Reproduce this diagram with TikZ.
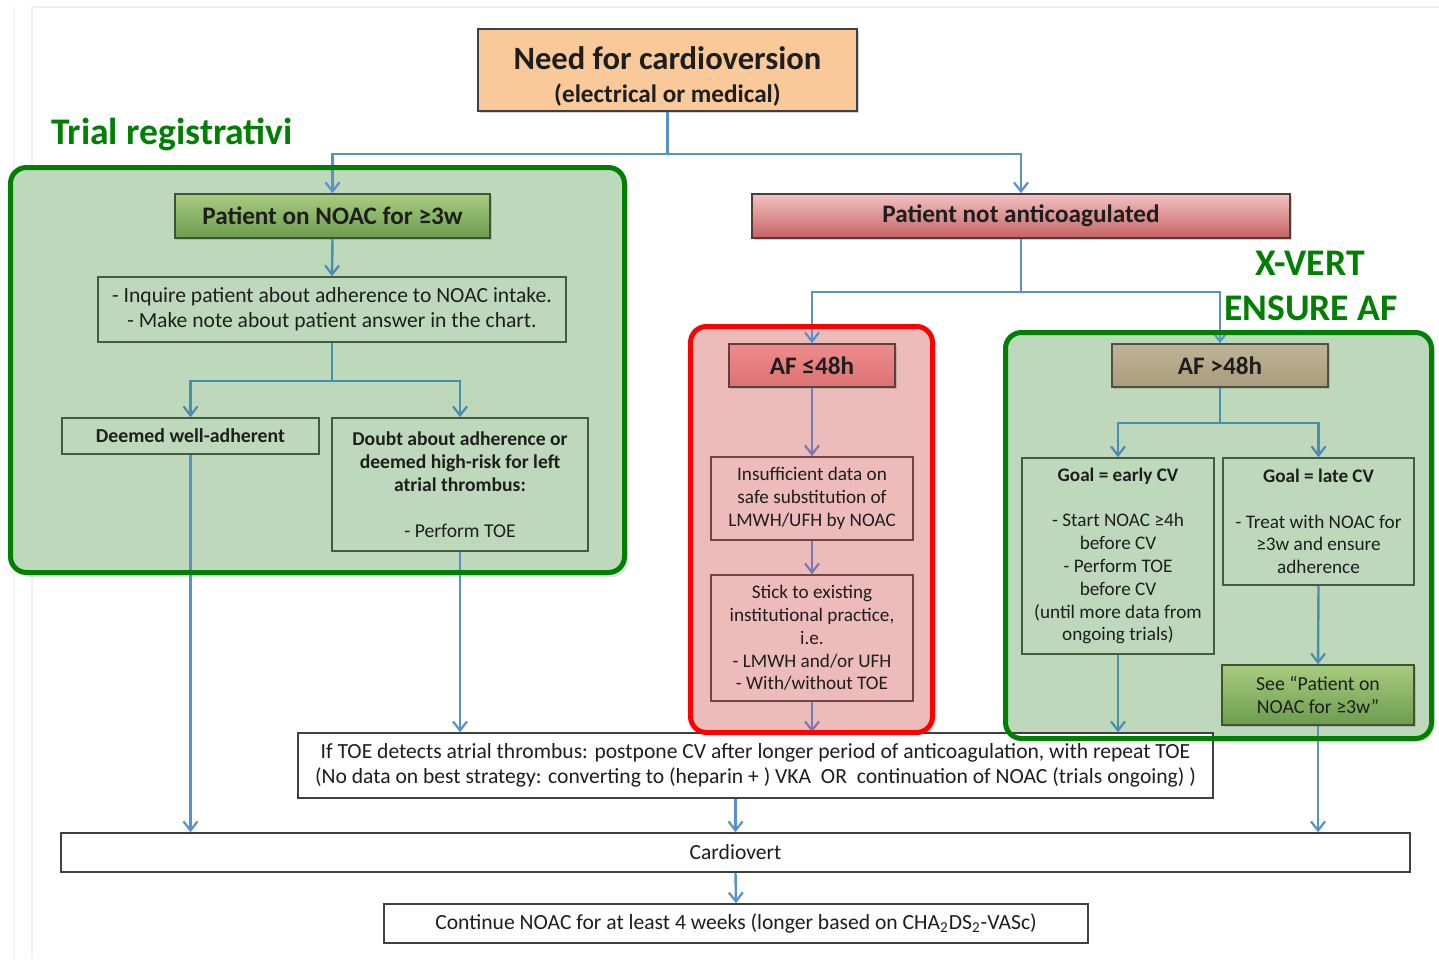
\documentclass[tikz,border=0pt]{standalone}
\usepackage{fontspec}
\setmainfont{Carlito}
\usetikzlibrary{arrows.meta,calc,shadows}
\definecolor{peach}{RGB}{250,201,154}
\definecolor{boxline}{RGB}{64,64,64}
\definecolor{pgreen}{RGB}{0,128,0}
\definecolor{pgreenfill}{RGB}{190,216,188}
\definecolor{predfill}{RGB}{238,187,187}
\definecolor{conblue}{RGB}{88,146,204}
\definecolor{congreen}{RGB}{72,142,176}
\definecolor{conred}{RGB}{122,120,176}
\definecolor{gtop}{RGB}{168,204,128}
\definecolor{gbot}{RGB}{108,156,78}
\definecolor{rtop}{RGB}{242,194,194}
\definecolor{rbot}{RGB}{198,98,98}
\definecolor{aftop}{RGB}{238,140,140}
\definecolor{afbot}{RGB}{220,114,114}
\definecolor{btop}{RGB}{192,180,150}
\definecolor{bbot}{RGB}{168,156,124}
\definecolor{txt}{RGB}{30,30,30}
\definecolor{glineA}{RGB}{66,92,62}
\definecolor{glineB}{RGB}{62,84,52}
\definecolor{rlineA}{RGB}{110,70,70}
\definecolor{rlineB}{RGB}{82,58,58}
\definecolor{rlineC}{RGB}{100,62,62}
\definecolor{blineB}{RGB}{78,82,66}
\tikzset{
  box/.style={draw=boxline, line width=0.8pt, inner sep=0pt, align=center, text=txt, font=\fontsize{9.6}{11.4}\selectfont},
  gbox/.style={box, draw=glineA},
  rbox/.style={box, draw=rlineA},
  shad/.style={drop shadow={shadow xshift=0.8pt, shadow yshift=-0.8pt, opacity=0.35}},
  hdr/.style={box, font=\fontsize{12.6}{14}\selectfont\bfseries, shad},
  wide/.style={font=\fontsize{10.8}{12.4}\selectfont},
  conn/.style={draw=conblue, line width=1.2pt, -{Straight Barb[length=4.5pt,width=7pt,line width=1.1pt]}},
  line/.style={draw=conblue, line width=1.2pt},
  lab/.style={text=pgreen, font=\fontsize{18.8}{22}\selectfont\bfseries, inner sep=0pt},
  panelg/.style={draw=pgreen, line width=2.5pt, rounded corners=8pt},
  panelr/.style={draw=red, line width=2.5pt, rounded corners=8pt}
}
\begin{document}
\begin{tikzpicture}[x=0.5pt,y=-0.5pt]
\useasboundingbox (0,0) rectangle (1439,959);
\fill[white] (0,0) rectangle (1439,959);
% faint page frame
\draw[black!7, line width=0.6pt] (32,7) -- (1439,7);
\draw[black!5, line width=0.6pt] (32,7) -- (32,959);
\draw[black!4, line width=0.6pt] (14,7) -- (14,959);

% panel shadows and fills
\fill[black, opacity=0.12, rounded corners=8pt] (14,171) rectangle (628,577);
\fill[black, opacity=0.12, rounded corners=8pt] (694,330) rectangle (936,736);
\fill[black, opacity=0.12, rounded corners=8pt] (1009,336) rectangle (1435,742);
\fill[pgreenfill, rounded corners=8pt] (10.5,167.5) rectangle (624.5,572.5);
\fill[predfill, rounded corners=8pt] (690.5,326.5) rectangle (932.5,732.5);
\fill[pgreenfill, rounded corners=8pt] (1005.5,332.5) rectangle (1431.5,738.5);

% labels
\node[lab] (trial) at (172,134) {Trial registrativi};
\node[lab] (xvert) at (1310,263) {X-VERT};
\node[lab] (ensure) at (1311,308) {ENSURE AF};

% nodes
\node[box, fill=peach, minimum width=189.5pt, minimum height=41pt, shad] (need) at (667.5,70) {};
\node[align=center, inner sep=0pt, text=txt] (needtxt) at (667.5,76)
  {{\fontsize{16.3}{18}\selectfont\bfseries Need for cardioversion}\\[4.5pt]{\fontsize{12.6}{14}\selectfont\bfseries (electrical or medical)}};

\node[hdr, draw=glineB, top color=gtop, bottom color=gbot, minimum width=157.5pt, minimum height=22pt] (noac) at (332.5,216) {Patient on NOAC for ≥3w};
\node[gbox, wide, minimum width=234pt, minimum height=32.5pt] (inq) at (332,309.5)
  {- Inquire patient about adherence to NOAC intake.\\- Make note about patient answer in the chart.};
\node[gbox, minimum width=128.5pt, minimum height=18pt, font=\fontsize{9.9}{11.4}\selectfont\bfseries] (well) at (190.5,436) {Deemed well-adherent};
\node[gbox, minimum width=128pt, minimum height=66.5pt, font=\fontsize{9.8}{11.5}\selectfont] (doubt) at (460,484.5)
  {\textbf{Doubt about adherence or}\\\textbf{deemed high-risk for left}\\\textbf{atrial thrombus:}\\[11.5pt]- Perform TOE};

\node[hdr, draw=rlineB, top color=rtop, bottom color=rbot, minimum width=269pt, minimum height=22pt] (notac) at (1021,216) {Patient not anticoagulated};

\node[hdr, draw=rlineC, top color=aftop, bottom color=afbot, minimum width=83pt, minimum height=21.5pt] (af48) at (812,365.5) {AF ≤48h};
\node[rbox, minimum width=101pt, minimum height=41.5pt] (insuf) at (812,498.5)
  {Insufficient data on\\safe substitution of\\LMWH/UFH by NOAC};
\node[rbox, minimum width=101pt, minimum height=63pt] (stick) at (812,638)
  {Stick to existing\\institutional practice,\\i.e.\\- LMWH and/or UFH\\- With/without TOE};

\node[hdr, draw=blineB, top color=btop, bottom color=bbot, minimum width=108pt, minimum height=21.5pt] (afgt) at (1220,365.5) {AF >48h};
\node[gbox, minimum width=96pt, minimum height=98pt, font=\fontsize{9.6}{11.4}\selectfont] (early) at (1118,556)
  {\textbf{Goal = early CV}\\[11.4pt]- Start NOAC ≥4h\\before CV\\- Perform TOE\\before CV\\(until more data from\\ongoing trials)};
\node[gbox, minimum width=95.5pt, minimum height=63.5pt, font=\fontsize{9.6}{11.4}\selectfont] (late) at (1318.5,521.5)
  {\textbf{Goal = late CV}\\[11.4pt]- Treat with NOAC for\\≥3w and ensure\\adherence};
\node[box, draw=glineB, top color=gtop, bottom color=gbot, minimum width=96pt, minimum height=30pt, font=\fontsize{9.9}{11.6}\selectfont, shad] (see) at (1318,695)
  {See “Patient on\\NOAC for ≥3w”};

\node[box, wide, fill=white, minimum width=457.5pt, minimum height=32.5pt] (toe) at (755.5,765.5)
  {If TOE detects atrial thrombus: postpone CV after longer period of anticoagulation, with repeat TOE\\(No data on best strategy: converting to (heparin + ) VKA~~OR~~continuation of NOAC (trials ongoing) )};
\node[box, wide, fill=white, minimum width=674.5pt, minimum height=19.5pt] (cv) at (735.5,852.5) {Cardiovert};
\node[box, wide, fill=white, minimum width=352pt, minimum height=19.5pt] (cont) at (736,923.5)
  {Continue NOAC for at least 4 weeks (longer based on CHA\textsubscript{2}DS\textsubscript{2}-VASc)};

% connectors
\draw[line] (need.south) -- ++(0,42) coordinate (bus1);
\draw[conn] (bus1) -| (noac.north);
\draw[conn] (bus1) -| (notac.north);
\draw[conn, draw=congreen] (noac.south) -- (inq.north);
\draw[line, draw=congreen] (inq.south) -- ++(0,38) coordinate (bus2);
\draw[conn, draw=congreen] (bus2) -| (well.north);
\draw[conn, draw=congreen] (bus2) -| (doubt.north);
\draw[conn] (well.south) -- (well.south |- cv.north);
\draw[conn] (doubt.south) -- (doubt.south |- toe.north);
\draw[line] (notac.south) -- ++(0,53) coordinate (bus3);
\draw[conn] (bus3) -| (af48.north);
\draw[conn] (bus3) -| (afgt.north);
\draw[conn, draw=conred] (af48.south) -- (insuf.north);
\draw[conn, draw=conred] (insuf.south) -- (stick.north);
\draw[conn, draw=conred] (stick.south) -- (stick.south |- toe.north);
\draw[line, draw=congreen] (afgt.south) -- ++(0,35) coordinate (bus4);
\draw[conn, draw=congreen] (bus4) -| (early.north);
\draw[conn, draw=congreen] (bus4) -| (late.north);
\draw[conn, draw=congreen] (late.south) -- (see.north);
\draw[conn, draw=congreen] (early.south) -- (early.south |- toe.north);
\draw[conn] (see.south) -- (see.south |- cv.north);
\draw[conn] (cv.north |- toe.south) -- (cv.north);
\draw[conn] (cv.south) -- (cont.north);

% panel borders on top
\draw[panelg] (10.5,167.5) rectangle (624.5,572.5);
\draw[panelr] (690.5,326.5) rectangle (932.5,732.5);
\draw[panelg] (1005.5,332.5) rectangle (1431.5,738.5);
\end{tikzpicture}
\end{document}
